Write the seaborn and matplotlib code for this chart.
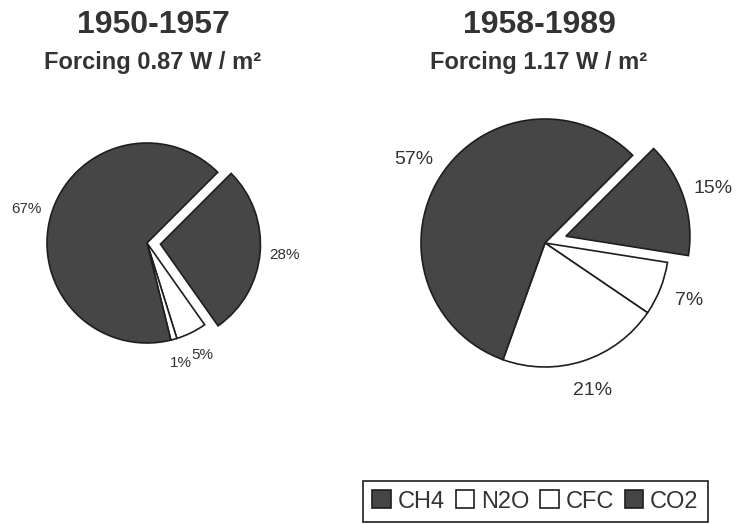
import matplotlib
matplotlib.use('Agg')
import matplotlib.pyplot as plt
from matplotlib.patches import Patch
import seaborn as sns

# contributions to forcing, clockwise from the exploded CH4 wedge
gases = ["CH4", "N2O", "CFC", "CO2"]
share_1950 = [28, 5, 1, 67]
share_1958 = [15, 7, 21, 57]
periods = ["1950-1957", "1958-1989"]
forcing = [0.87, 1.17]

dark = "#464646"
gas_colors = [dark, "white", "white", dark]

sns.set_style("white")
plt.rcParams['font.family'] = ['Liberation Sans', 'DejaVu Sans']

W, H = 740, 524
fig = plt.figure(figsize=(W / 100, H / 100), dpi=100)
ax = fig.add_axes([0, 0, 1, 1])

# center, radius and offset of the CH4 wedge, in pixels
pies = [
    (share_1950, (147, H - 243), 100, 13.5, 11),
    (share_1958, (545, H - 243), 124, 22, 14),
]
for values, center, radius, expl, fs in pies:
    wedges, texts = ax.pie(values, labels=[f"{v}%" for v in values],
                           colors=gas_colors, explode=[expl, 0, 0, 0],
                           startangle=45, counterclock=False,
                           center=center, radius=radius, labeldistance=1.25,
                           wedgeprops=dict(edgecolor="#1e1e1e", linewidth=1.2),
                           textprops=dict(fontsize=fs, color="#333333"),
                           frame=True)
    for t in texts:
        t.set_ha('center')
        t.set_va('center')

ax.set_xlim(0, W)
ax.set_ylim(0, H)
ax.set_aspect('equal')
ax.axis('off')

title_x = [153, 539]
for x, per, f in zip(title_x, periods, forcing):
    fig.text(x / W, 1 - 25 / H, per, ha='center', va='center',
             fontsize=23, fontweight='bold', color="#333333")
    fig.text(x / W, 1 - 62 / H, f"Forcing {f} W / m\u00b2", ha='center',
             va='center', fontsize=17, fontweight='bold', color="#333333")

handles = [Patch(facecolor=c, edgecolor="#1e1e1e", linewidth=1.2) for c in gas_colors]
leg = fig.legend(handles, gases, ncol=4, loc='lower right',
                 bbox_to_anchor=(708 / W, 2 / H),
                 prop={'size': 17},
                 handlelength=0.8, handleheight=0.8, handletextpad=0.28,
                 columnspacing=0.45, borderpad=0.4, borderaxespad=0,
                 fancybox=False, framealpha=1, edgecolor="#1e1e1e")
leg.get_frame().set_linewidth(1.2)
for t in leg.get_texts():
    t.set_color("#333333")

fig.savefig("out.png", dpi=100, facecolor="white")
